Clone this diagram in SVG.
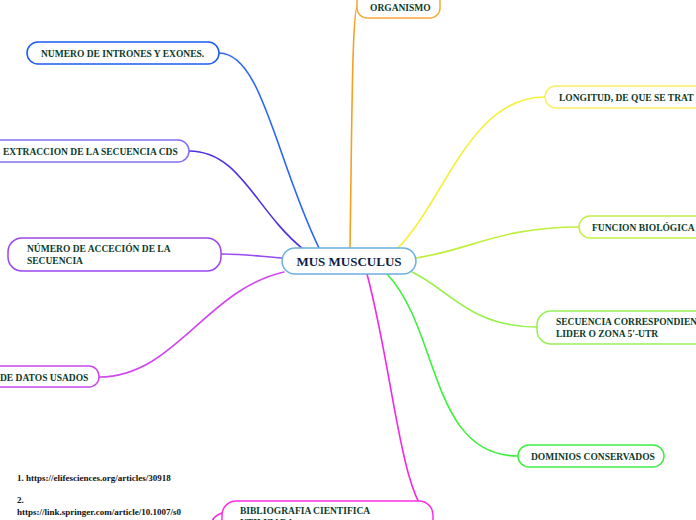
<svg xmlns="http://www.w3.org/2000/svg" width="696" height="520" viewBox="0 0 696 520">
<style>
  .n { fill: #ffffff; stroke-width: 1.5; }
  .t { font-family: "Liberation Serif", "DejaVu Serif", serif; font-weight: bold; font-size: 9.5px; fill: #0b3a2a; }
  .c { font-family: "Liberation Serif", "DejaVu Serif", serif; font-weight: bold; font-size: 13px; fill: #111d42; }
  .r { font-family: "Liberation Serif", "DejaVu Serif", serif; font-weight: bold; font-size: 9px; fill: #111111; }
  .l { fill: none; stroke-width: 1.6; stroke-linecap: round; }
</style>
<rect x="0" y="0" width="696" height="520" fill="#ffffff"/>
<g id="connectors">
  <path class="l" stroke="#f5a020" d="M350,248 C352,120 352,5 358,5"/>
  <path class="l" stroke="#2a66f5" d="M219,53 C262,53 276,160 319,248"/>
  <path class="l" stroke="#4a30e6" d="M189,151 C240,151 255,210 303,249"/>
  <path class="l" stroke="#9a48f2" d="M221,254 C250,254 262,257 282,258"/>
  <path class="l" stroke="#d048ee" d="M99,377 C175,377 205,290 284,272"/>
  <path class="l" stroke="#f5f03a" d="M545,97 C470,97 445,200 398,248"/>
  <path class="l" stroke="#bff03a" d="M416,258 C470,250 500,227 579,227"/>
  <path class="l" stroke="#98f048" d="M412,272 C450,290 470,327 537,327"/>
  <path class="l" stroke="#3cf03c" d="M387,274 C440,330 430,456 518,456"/>
  <path class="l" stroke="#f428e4" d="M367,274 C395,380 400,500 434,522"/>
  <path class="l" stroke="#f428e4" stroke-width="1" d="M222,513 C216,515 213,518 212,522"/>
</g>
<g id="node-center">
  <rect class="n" x="282" y="248" width="134" height="26" rx="13" stroke="#6ab0e0"/>
  <text class="c" x="349" y="266" text-anchor="middle">MUS MUSCULUS</text>
</g>
<g id="node-organismo">
  <rect class="n" x="357" y="-8" width="83" height="26" rx="10" stroke="#f7a838"/>
  <text class="t" x="370" y="11">ORGANISMO</text>
</g>
<g id="node-intrones">
  <rect class="n" x="27" y="42" width="192" height="22" rx="11" stroke="#1a5cf0"/>
  <text class="t" x="41" y="57">NUMERO DE INTRONES Y EXONES.</text>
</g>
<g id="node-extraccion">
  <rect class="n" x="-20" y="140" width="209" height="22" rx="11" stroke="#8070f2"/>
  <text class="t" x="3" y="155">EXTRACCION DE LA SECUENCIA CDS</text>
</g>
<g id="node-accecion">
  <rect class="n" x="8" y="238" width="213" height="33" rx="14" stroke="#9b45f0"/>
  <text class="t" x="27" y="252">NÚMERO DE ACCECIÓN DE LA</text>
  <text class="t" x="27" y="264">SECUENCIA</text>
</g>
<g id="node-datos">
  <rect class="n" x="-30" y="366" width="129" height="21" rx="10" stroke="#c848ea"/>
  <text class="t" x="0" y="381">DE DATOS USADOS</text>
</g>
<g id="node-longitud">
  <rect class="n" x="545" y="86" width="180" height="22" rx="11" stroke="#f8f060"/>
  <text class="t" x="559" y="101">LONGITUD, DE QUE SE TRAT</text>
</g>
<g id="node-funcion">
  <rect class="n" x="579" y="216" width="150" height="22" rx="11" stroke="#c0f048"/>
  <text class="t" x="592" y="231">FUNCION BIOLÓGICA</text>
</g>
<g id="node-secuencia">
  <rect class="n" x="537" y="311" width="190" height="33" rx="14" stroke="#98f058"/>
  <text class="t" x="556" y="325">SECUENCIA CORRESPONDIEN</text>
  <text class="t" x="556" y="337">LIDER O ZONA 5'-UTR</text>
</g>
<g id="node-dominios">
  <rect class="n" x="518" y="445" width="146" height="22" rx="11" stroke="#40ee40"/>
  <text class="t" x="531" y="460">DOMINIOS CONSERVADOS</text>
</g>
<g id="node-bibliografia">
  <rect class="n" x="222" y="501" width="211" height="40" rx="14" stroke="#fc30e4"/>
  <text class="t" x="240" y="514">BIBLIOGRAFIA CIENTIFICA</text>
  <text class="t" x="240" y="526">UTILIZADA</text>
</g>
<g id="node-referencias">
  <text class="r" x="17" y="481">1. https://elifesciences.org/articles/30918</text>
  <text class="r" x="17" y="503">2.</text>
  <text class="r" x="17" y="515">https://link.springer.com/article/10.1007/s0</text>
  <text class="r" x="17" y="526">0251-009-0343</text>
</g>
</svg>
